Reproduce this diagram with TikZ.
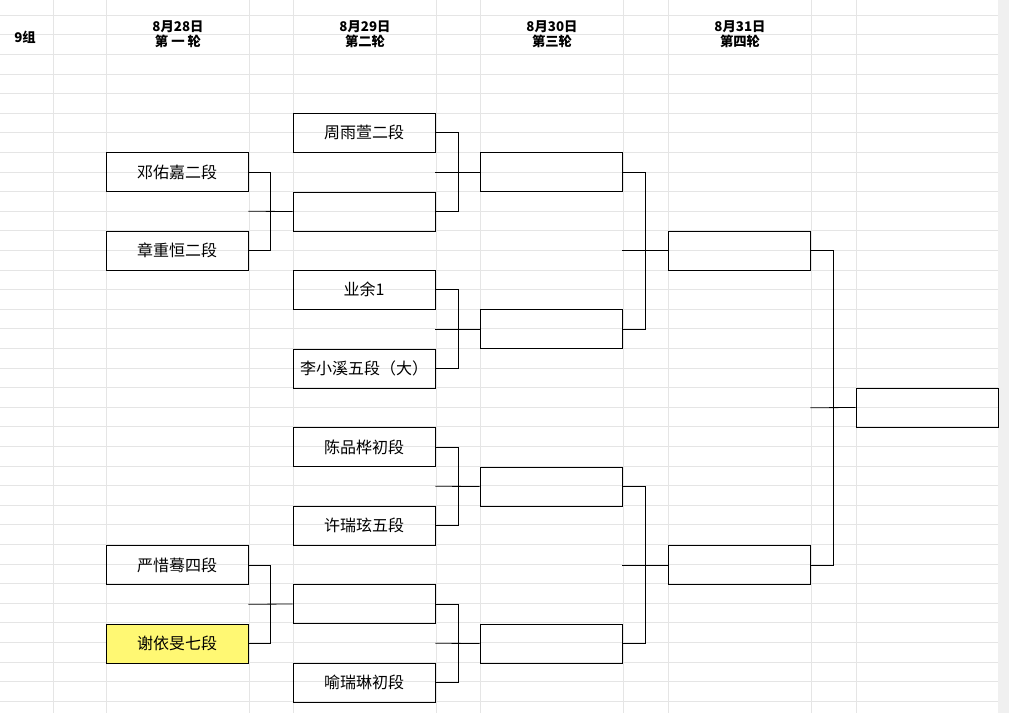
\documentclass[tikz,border=0pt]{standalone}
\usepackage{fontspec}
\setmainfont{Liberation Serif}
\newfontfamily\cjk{Noto Sans CJK SC}
\usetikzlibrary{positioning,calc}
\tikzset{
  player/.style={draw, minimum width=106.5pt, minimum height=29pt, inner sep=0pt, font=\cjk\fontsize{12}{12}\selectfont},
  head/.style={font=\cjk\bfseries\fontsize{10}{11}\selectfont, align=center},
  bracketline/.style={draw, line width=0.6pt}
}
\newcommand{\bjoin}[4]{% top, bottom, target, x of fork
  \draw[bracketline] (#1.east) -| (#4,0 |- #1.east) |- (#2.east);
  \draw[bracketline] ($(#1.east)!0.5!(#2.east)$ -| #4,0) -- (#3.west);
}
\begin{document}
\begin{tikzpicture}[x=0.75pt,y=-0.75pt]
\useasboundingbox (0,0) rectangle (1009,713);
\fill[white] (0,0) rectangle (1009,713);
% grid
\foreach \gx in {53,106,249,293,436,480,623,668,811,856,998}
  \draw[black!10] (\gx,0) -- (\gx,713);
\foreach \gy in {0,...,35}
  \draw[black!10] (0,{15+19.6*\gy}) -- (998,{15+19.6*\gy});
\fill[black!6] (998,0) rectangle (1009,713);
% headers
\node[head] (g) at (25,37) {9组};
\node[head] (d1) at (178,34) {8月28日\\第 一 轮};
\node[head] (d2) at (365,34) {8月29日\\第二轮};
\node[head] (d3) at (552,34) {8月30日\\第三轮};
\node[head] (d4) at (740,34) {8月31日\\第四轮};
% round 1
\node[player] (a1) at (177,172) {邓佑嘉二段};
\node[player] (a2) at (177,250.5) {章重恒二段};
\node[player] (a3) at (177,565) {严惜蓦四段};
\node[player, fill=yellow!55] (a4) at (177,643.5) {谢依旻七段};
% round 2
\node[player] (b1) at (364,132.5) {周雨萱二段};
\node[player] (b2) at (364,211.5) {};
\node[player] (b3) at (364,289.5) {业余1};
\node[player] (b4) at (364,368.5) {李小溪五段（大）};
\node[player] (b5) at (364,447) {陈品桦初段};
\node[player] (b6) at (364,525.5) {许瑞玹五段};
\node[player] (b7) at (364,604) {};
\node[player] (b8) at (364,682.5) {喻瑞琳初段};
% round 3
\node[player] (c1) at (551,172) {};
\node[player] (c2) at (551,329) {};
\node[player] (c3) at (551,486.5) {};
\node[player] (c4) at (551,643.5) {};
% round 4
\node[player] (e1) at (739,250.5) {};
\node[player] (e2) at (739,565) {};
% final
\node[player] (f1) at (927,407.5) {};
% connectors
\bjoin{a1}{a2}{b2}{270}
\bjoin{a3}{a4}{b7}{270}
\bjoin{b1}{b2}{c1}{458}
\bjoin{b3}{b4}{c2}{458}
\bjoin{b5}{b6}{c3}{458}
\bjoin{b7}{b8}{c4}{458}
\bjoin{c1}{c2}{e1}{645}
\bjoin{c3}{c4}{e2}{645}
\bjoin{e1}{e2}{f1}{833}
\end{tikzpicture}
\end{document}
